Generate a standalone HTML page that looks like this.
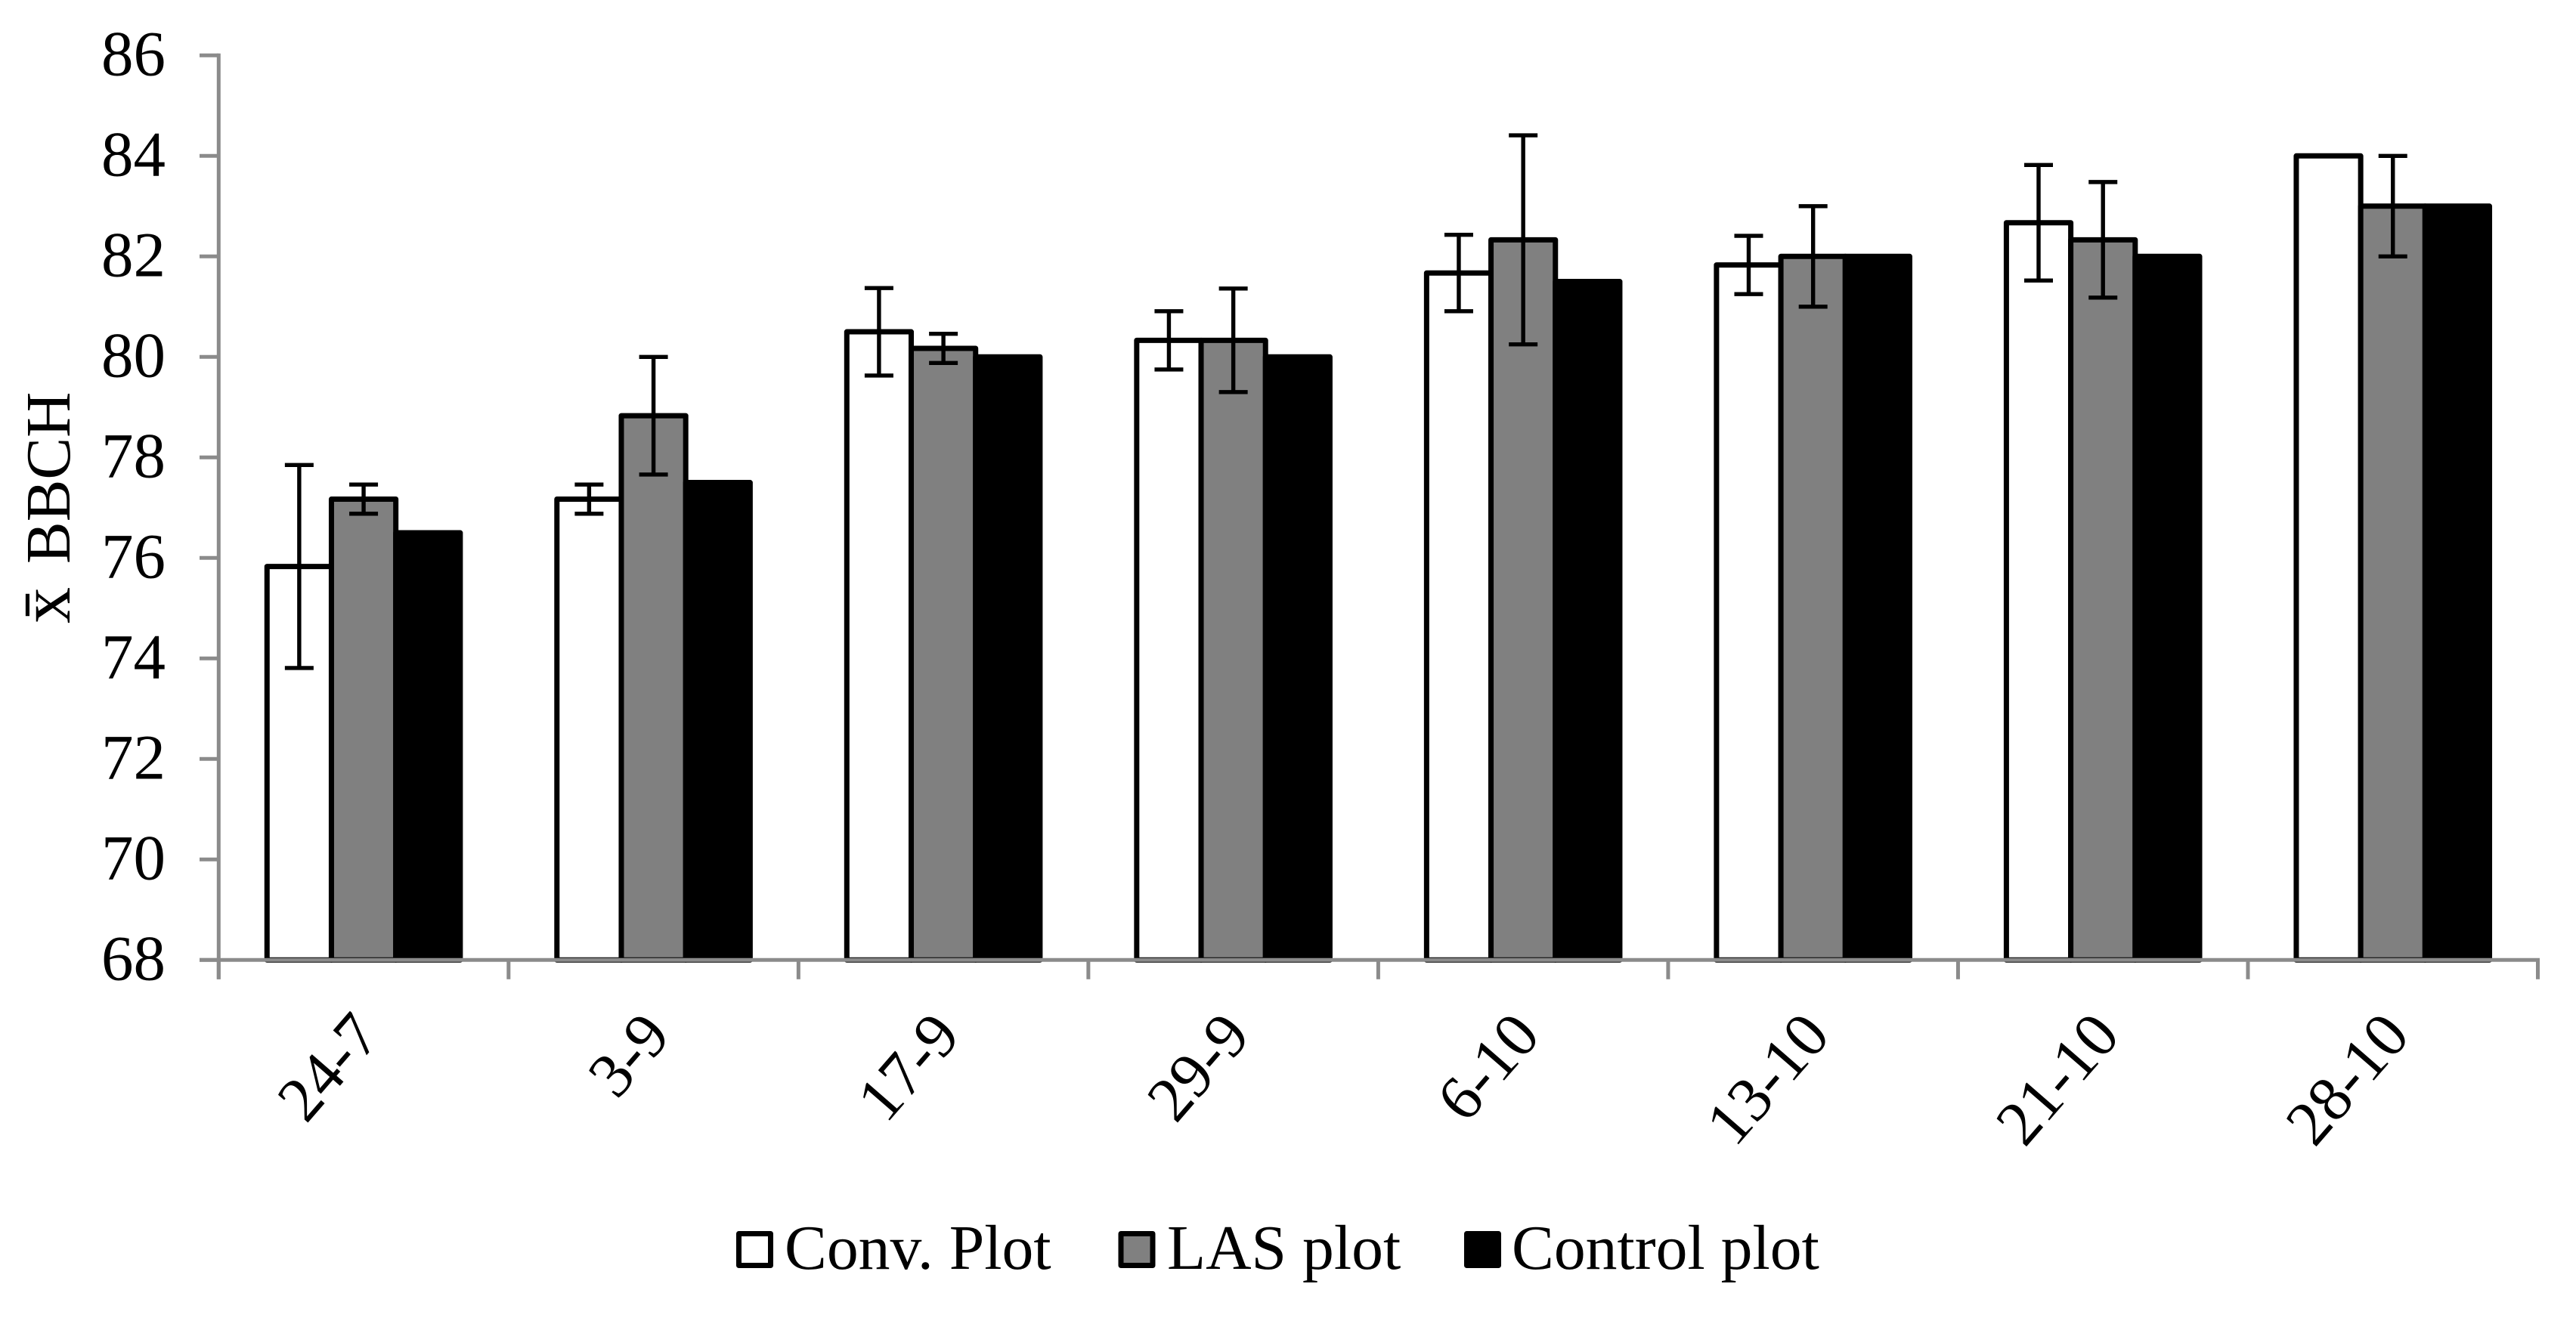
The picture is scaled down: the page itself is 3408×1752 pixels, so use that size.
<!DOCTYPE html>
<html lang="en">
<head>
<meta charset="utf-8">
<title>BBCH by date</title>
<style>
  html, body { margin: 0; padding: 0; background: #fff; }
  svg { display: block; }
  text { font-family: "Liberation Serif", "Times New Roman", serif; fill: #000; }
</style>
</head>
<body>
<svg id="chart" xmlns="http://www.w3.org/2000/svg" width="3408" height="1752" viewBox="0 0 3408 1752">
  <rect x="0" y="0" width="3408" height="1752" fill="#fff"/>
  <g id="bars"></g>
  <g id="errors"></g>
  <g id="axes"></g>
  <text transform="translate(92,825) rotate(-90)" font-size="83.5"><tspan font-size="96">x&#772; </tspan><tspan x="79">BBCH</tspan></text>
  <g>
    <g>
      <rect x="977.5" y="1632.5" width="42" height="42" fill="#fff" stroke="#000" stroke-width="7" stroke-linejoin="round"/>
      <text x="1038" y="1679" font-size="83.7">Conv. Plot</text>
    </g>
    <g>
      <rect x="1483" y="1632.5" width="42" height="42" fill="#808080" stroke="#000" stroke-width="7" stroke-linejoin="round"/>
      <text x="1544" y="1679" font-size="83.7">LAS plot</text>
    </g>
    <g>
      <rect x="1940.5" y="1632.5" width="42" height="42" fill="#000" stroke="#000" stroke-width="7" stroke-linejoin="round"/>
      <text x="2000" y="1679" font-size="83.7">Control plot</text>
    </g>
  </g>
</svg>
<script>
const categories = ['24-7', '3-9', '17-9', '29-9', '6-10', '13-10', '21-10', '28-10'];
const yTickLabels = [68, 70, 72, 74, 76, 78, 80, 82, 84, 86];
const convValues = [75.83, 77.17, 80.5, 80.33, 81.67, 81.83, 82.67, 84];
const lasValues = [77.17, 78.83, 80.17, 80.33, 82.33, 82, 82.33, 83];
const controlValues = [76.5, 77.5, 80, 80, 81.5, 82, 82, 83];
const convErrors = [2.02, 0.29, 0.87, 0.58, 0.76, 0.58, 1.15, 0];
const lasErrors = [0.29, 1.17, 0.29, 1.03, 2.08, 1, 1.15, 1];
const controlErrors = [0, 0, 0, 0, 0, 0, 0, 0];

const SVG_NS = 'http://www.w3.org/2000/svg';
const plotLeft = 289.3, plotRight = 3357.5, plotTop = 73.3, plotBottom = 1270.3;
const barWidth = 85.2;
const axisColor = '#8b8b8b';

function yScale(v) {
  const lo = yTickLabels[0], hi = yTickLabels[yTickLabels.length - 1];
  return plotBottom - (v - lo) / (hi - lo) * (plotBottom - plotTop);
}
function bandWidth() { return (plotRight - plotLeft) / categories.length; }
function xBand(i) { return plotLeft + i * bandWidth(); }
function xCenter(i) { return xBand(i) + bandWidth() / 2; }
function xBar(i, s) { return xCenter(i) + (s - 1.5) * barWidth; }

function make(tag, attrs, parent) {
  const el = document.createElementNS(SVG_NS, tag);
  for (const k in attrs) el.setAttribute(k, attrs[k]);
  parent.appendChild(el);
  return el;
}

const barsG = document.getElementById('bars');
const errorsG = document.getElementById('errors');
const axesG = document.getElementById('axes');

const seriesKeys = ['conv', 'las', 'control'];
const seriesValues = [convValues, lasValues, controlValues];
const seriesErrors = [convErrors, lasErrors, controlErrors];
const seriesFills = ['#ffffff', '#808080', '#000000'];

seriesValues.forEach(function (vals, s) {
  vals.forEach(function (v, i) {
    const top = yScale(v);
    const r = make('rect', {
      x: xBar(i, s), y: top, width: barWidth, height: plotBottom - top,
      fill: seriesFills[s], stroke: '#000', 'stroke-width': 7, 'stroke-linejoin': 'round'
    }, barsG);
    
    
  });
});

seriesErrors.forEach(function (errs, s) {
  errs.forEach(function (e, i) {
    if (!e) return;
    const cx = xBar(i, s) + barWidth / 2;
    const hi = yScale(seriesValues[s][i] + e);
    const lo = yScale(seriesValues[s][i] - e);
    const g = make('g', { stroke: '#000', 'stroke-width': 5.4, fill: 'none' }, errorsG);
    
    
    make('line', { x1: cx, x2: cx, y1: hi, y2: lo }, g);
    make('line', { x1: cx - 19, x2: cx + 19, y1: hi, y2: hi }, g);
    make('line', { x1: cx - 19, x2: cx + 19, y1: lo, y2: lo }, g);
  });
});

const yLine = make('line', { x1: plotLeft, x2: plotLeft, y1: plotTop - 2.5, y2: plotBottom + 25.5, stroke: axisColor, 'stroke-width': 5 }, axesG);


const xLine = make('line', { x1: 264, x2: plotRight + 2.5, y1: plotBottom, y2: plotBottom, stroke: axisColor, 'stroke-width': 5 }, axesG);



yTickLabels.forEach(function (t) {
  const y = yScale(t);
  const tick = make('line', { x1: 264, x2: plotLeft, y1: y, y2: y, stroke: axisColor, 'stroke-width': 5 }, axesG);
  
  
  const label = make('text', { x: 219, y: y + 26, 'font-size': 85, 'text-anchor': 'end' }, axesG);
  
  
  label.textContent = t;
});

for (let i = 0; i <= categories.length; i++) {
  const x = xBand(i);
  const tick = make('line', { x1: x, x2: x, y1: plotBottom, y2: plotBottom + 25.5, stroke: axisColor, 'stroke-width': 5 }, axesG);
  
  
}

categories.forEach(function (c, i) {
  const ax = xCenter(i) + 25, ay = 1372;
  const label = make('text', { x: 0, y: 0, 'font-size': 84, 'text-anchor': 'end', transform: 'translate(' + ax + ',' + ay + ') rotate(-49)' }, axesG);
  
  
  label.textContent = c;
});
</script>
</body>
</html>
